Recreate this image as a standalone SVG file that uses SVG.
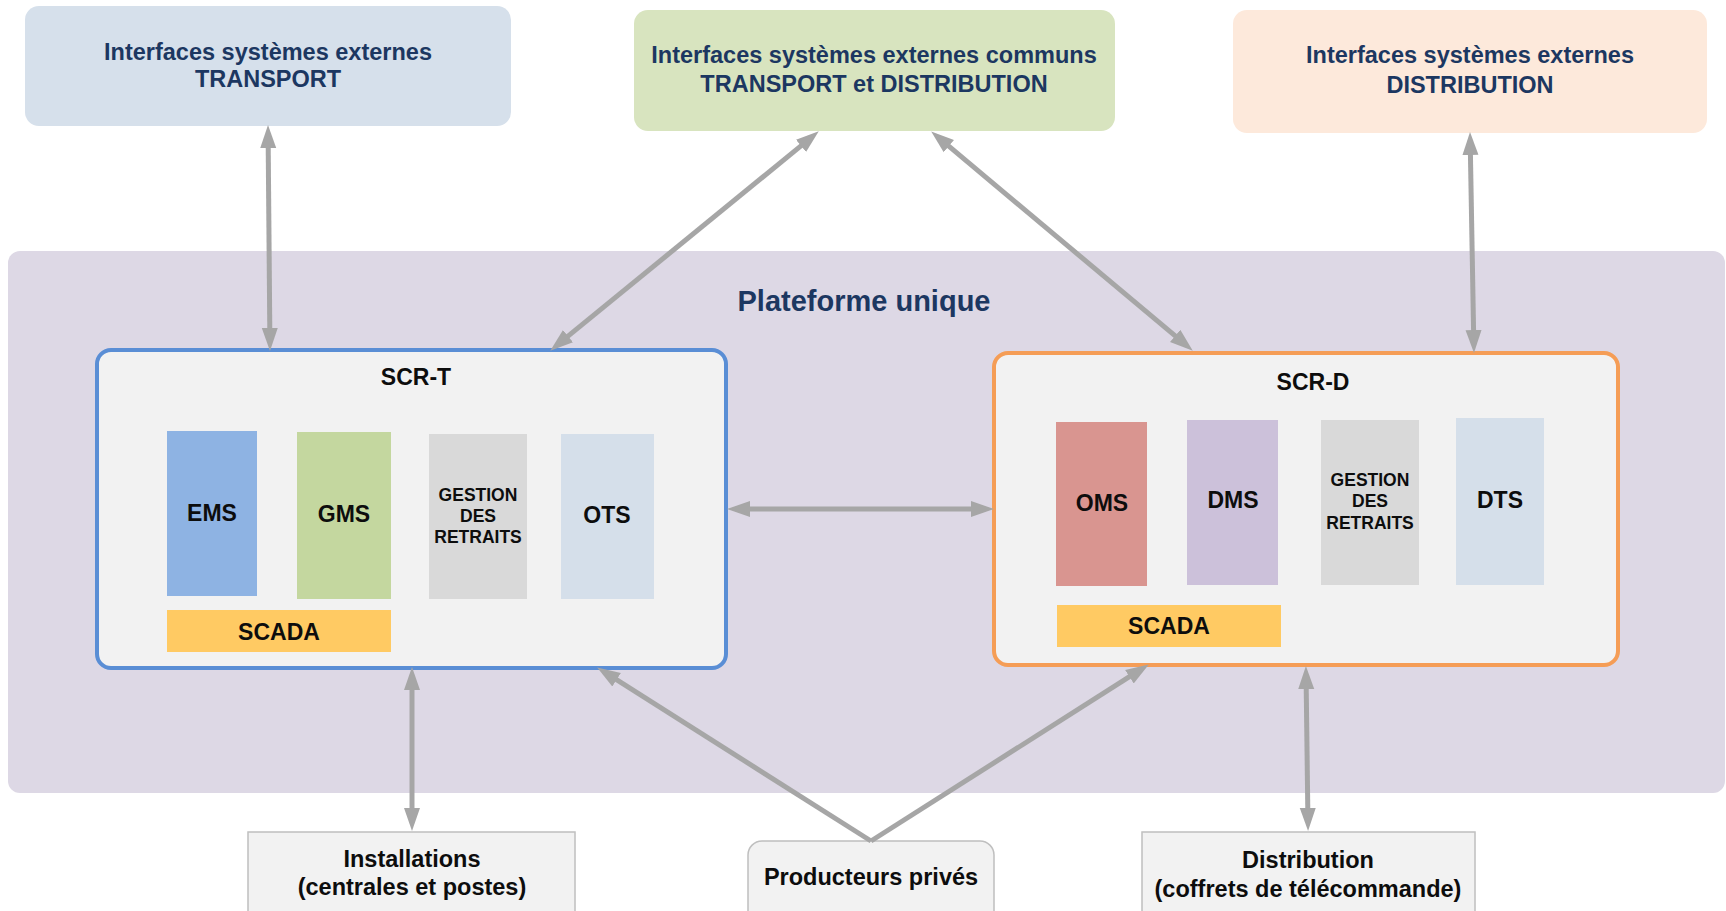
<svg xmlns="http://www.w3.org/2000/svg" width="1726" height="911" viewBox="0 0 1726 911">
<style>
text{font-family:"Liberation Sans",Arial,sans-serif;font-weight:bold;text-anchor:middle}
.hd{fill:#1c3761;font-size:23.5px}
.tt{fill:#0d0d0d;font-size:23px}
.sm{fill:#0d0d0d;font-size:17.5px}
.bt{fill:#0d0d0d;font-size:23.5px}
.conn{stroke:#a6a6a6;stroke-width:5;fill:none}
.bot{fill:#f2f2f2;stroke:#bfbfbf;stroke-width:1.5}
</style>
<defs>
<marker id="ah" markerUnits="userSpaceOnUse" markerWidth="24" markerHeight="18" viewBox="0 0 24 18" refX="2" refY="9" orient="auto-start-reverse">
<path d="M0,1 L23,9 L0,17 z" fill="#a6a6a6"/>
</marker>
</defs>
<rect width="1726" height="911" fill="#ffffff"/>
<g id="plateforme">
<rect x="8" y="251" width="1717" height="542" rx="12" fill="#ddd8e5"/>
<text class="hd" x="864" y="311" style="font-size:29px">Plateforme unique</text>
</g>
<g id="ext-transport">
<rect x="25" y="6" width="486" height="120" rx="14" fill="#d6e0eb"/>
<text class="hd" x="268" y="60">Interfaces systèmes externes</text>
<text class="hd" x="268" y="87">TRANSPORT</text>
</g>
<g id="ext-communs">
<rect x="634" y="10" width="481" height="121" rx="14" fill="#d8e4bf"/>
<text class="hd" x="874" y="63">Interfaces systèmes externes communs</text>
<text class="hd" x="874" y="92">TRANSPORT et DISTRIBUTION</text>
</g>
<g id="ext-distribution">
<rect x="1233" y="10" width="474" height="123" rx="14" fill="#fde9db"/>
<text class="hd" x="1470" y="63">Interfaces systèmes externes</text>
<text class="hd" x="1470" y="93">DISTRIBUTION</text>
</g>
<g id="scr-t">
<rect x="97" y="350" width="629" height="318" rx="14" fill="#f2f2f2" stroke="#5a8ed5" stroke-width="4"/>
<text class="tt" x="416" y="385">SCR-T</text>
<rect x="167" y="431" width="90" height="165" fill="#8eb3e3"/>
<text class="tt" x="212" y="521">EMS</text>
<rect x="297" y="432" width="94" height="167" fill="#c4d79f"/>
<text class="tt" x="344" y="522">GMS</text>
<rect x="429" y="434" width="98" height="165" fill="#d9d9d9"/>
<text class="sm" x="478" y="501">GESTION</text>
<text class="sm" x="478" y="522">DES</text>
<text class="sm" x="478" y="543">RETRAITS</text>
<rect x="561" y="434" width="93" height="165" fill="#d5dfea"/>
<text class="tt" x="607" y="523">OTS</text>
<rect x="167" y="610" width="224" height="42" fill="#ffca63"/>
<text class="tt" x="279" y="640">SCADA</text>
</g>
<g id="scr-d">
<rect x="994" y="353" width="624" height="312" rx="14" fill="#f2f2f2" stroke="#f59d56" stroke-width="4"/>
<text class="tt" x="1313" y="390">SCR-D</text>
<rect x="1056" y="422" width="91" height="164" fill="#d99590"/>
<text class="tt" x="1102" y="511">OMS</text>
<rect x="1187" y="420" width="91" height="165" fill="#ccc1da"/>
<text class="tt" x="1233" y="508">DMS</text>
<rect x="1321" y="420" width="98" height="165" fill="#d9d9d9"/>
<text class="sm" x="1370" y="486">GESTION</text>
<text class="sm" x="1370" y="507">DES</text>
<text class="sm" x="1370" y="529">RETRAITS</text>
<rect x="1456" y="418" width="88" height="167" fill="#d5dfea"/>
<text class="tt" x="1500" y="508">DTS</text>
<rect x="1057" y="605" width="224" height="42" fill="#ffca63"/>
<text class="tt" x="1169" y="634">SCADA</text>
</g>
<g id="installations">
<rect class="bot" x="248" y="832" width="327" height="100"/>
<text class="bt" x="412" y="867">Installations</text>
<text class="bt" x="412" y="895">(centrales et postes)</text>
</g>
<g id="producteurs">
<rect class="bot" x="748" y="841" width="246" height="100" rx="14"/>
<text class="bt" x="871" y="885">Producteurs privés</text>
</g>
<g id="distribution">
<rect class="bot" x="1142" y="832" width="333" height="100"/>
<text class="bt" x="1308" y="868">Distribution</text>
<text class="bt" x="1308" y="897">(coffrets de télécommande)</text>
</g>
<g id="connectors">
<line class="conn" x1="268.2" y1="146" x2="269.8" y2="330" marker-start="url(#ah)" marker-end="url(#ah)"/>
<line class="conn" x1="566.5" y1="337.4" x2="802.5" y2="144.6" marker-start="url(#ah)" marker-end="url(#ah)"/>
<line class="conn" x1="947.3" y1="144.9" x2="1176.7" y2="337.2" marker-start="url(#ah)" marker-end="url(#ah)"/>
<line class="conn" x1="1470.4" y1="153" x2="1473.6" y2="332" marker-start="url(#ah)" marker-end="url(#ah)"/>
<line class="conn" x1="748" y1="509" x2="973" y2="509" marker-start="url(#ah)" marker-end="url(#ah)"/>
<line class="conn" x1="412" y1="688" x2="412" y2="810" marker-start="url(#ah)" marker-end="url(#ah)"/>
<line class="conn" x1="1306.2" y1="687" x2="1307.8" y2="810" marker-start="url(#ah)" marker-end="url(#ah)"/>
<line class="conn" x1="871" y1="841" x2="614.9" y2="678.7" marker-end="url(#ah)"/>
<line class="conn" x1="871" y1="841" x2="1131.1" y2="675.7" marker-end="url(#ah)"/>
</g>
</svg>
